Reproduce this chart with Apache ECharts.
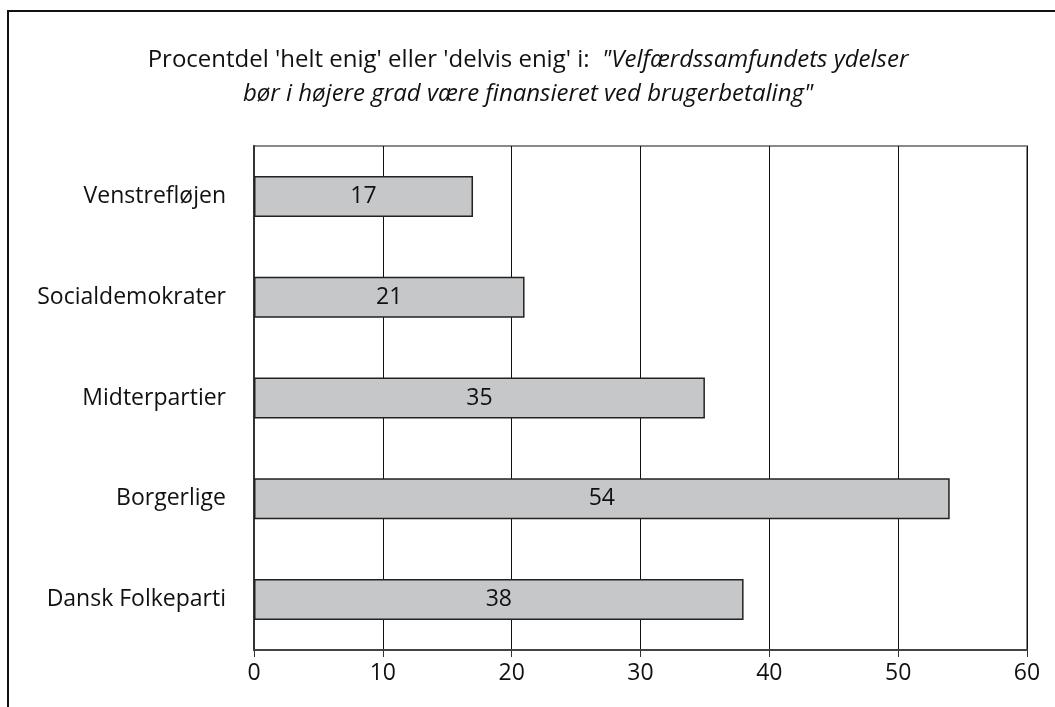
<!DOCTYPE html>
<html>
<head>
<meta charset="utf-8">
<script src="https://cdn.jsdelivr.net/npm/echarts@6/dist/echarts.min.js"></script>
<style>
html,body{margin:0;padding:0;width:1055px;height:707px;overflow:hidden;background:#fff;}
#frame{position:absolute;left:7px;top:10px;width:1100px;height:760px;border:2px solid #111;box-sizing:border-box;}
#chart{position:absolute;left:0;top:0;width:1055px;height:707px;}
</style>
</head>
<body>
<div id="frame"></div>
<div id="chart"></div>
<script>
const categories = ['Venstrefløjen', 'Socialdemokrater', 'Midterpartier', 'Borgerlige', 'Dansk Folkeparti'];
const values = [17, 21, 35, 54, 38];
const xTicks = { min: 0, max: 60, interval: 10 };
const titleLine1 = "Procentdel 'helt enig' eller 'delvis enig' i:  ";
const titleLine1Italic = '"Velfærdssamfundets ydelser';
const titleLine2 = 'bør i højere grad være finansieret ved brugerbetaling"';

const FONT = 'Open Sans';
const chart = echarts.init(document.getElementById('chart'), null, { renderer: 'canvas' });
chart.setOption({
  animation: false,
  backgroundColor: 'transparent',
  title: {
    text: '{n|' + titleLine1 + '}{i|' + titleLine1Italic + '}\n{i|' + titleLine2 + '}',
    left: 523,
    top: 38,
    textAlign: 'center',
    textStyle: {
      fontWeight: 'normal',
      rich: {
        n: { fontFamily: FONT, fontSize: 24, fontWeight: 'normal', color: '#111', lineHeight: 34 },
        i: { fontFamily: FONT, fontSize: 24, fontWeight: 'normal', fontStyle: 'italic', color: '#111', lineHeight: 34 }
      }
    }
  },
  grid: {
    left: 254, right: 28, top: 146, bottom: 57,
    show: true, borderColor: '#8a8a8a', borderWidth: 2, backgroundColor: 'transparent'
  },
  xAxis: {
    type: 'value',
    min: xTicks.min, max: xTicks.max, interval: xTicks.interval,
    axisLine: { show: true, lineStyle: { color: '#444', width: 2 } },
    axisTick: { show: true, length: 7, lineStyle: { color: '#333', width: 1 } },
    axisLabel: { fontFamily: FONT, fontSize: 23, color: '#111', margin: 12 },
    splitLine: { show: true, lineStyle: { color: '#111', width: 1 } }
  },
  yAxis: {
    type: 'category',
    data: categories,
    inverse: true,
    axisLine: { show: true, lineStyle: { color: '#333', width: 2 } },
    axisTick: { show: false },
    axisLabel: { fontFamily: FONT, fontSize: 23, color: '#111', margin: 28 },
    splitLine: { show: false }
  },
  series: [{
    type: 'bar',
    data: values,
    barWidth: 41,
    itemStyle: { color: '#c6c7c9', borderColor: '#222', borderWidth: 1.5 },
    label: { show: true, position: 'inside', fontFamily: FONT, fontSize: 23, color: '#111' }
  }]
});
</script>
</body>
</html>
